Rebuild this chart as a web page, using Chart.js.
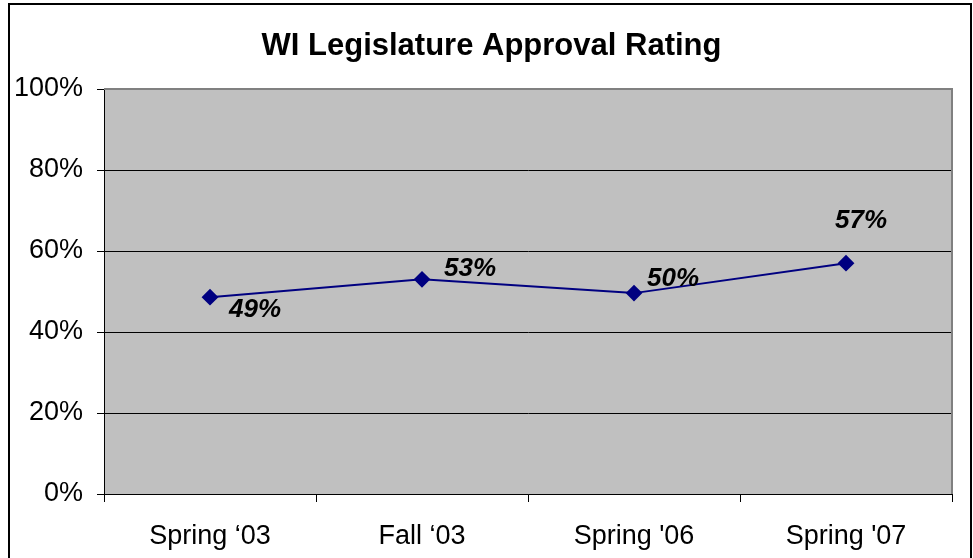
<!DOCTYPE html>
<html>
<head>
<meta charset="utf-8">
<script src="https://cdn.jsdelivr.net/npm/chart.js@4/dist/chart.umd.min.js"></script>
<style>
  html, body { margin: 0; padding: 0; background: #fff; }
  canvas { display: block; }
</style>
</head>
<body>
<canvas id="c" width="973" height="558"></canvas>
<script>
const chartTitle = 'WI Legislature Approval Rating';
const categories = ["Spring \u201803", "Fall \u201803", "Spring '06", "Spring '07"];
const approval = [48.6, 53.0, 49.6, 57.0];
const pointLabels = ["49%", "53%", "50%", "57%"];
const yTicks = [0, 20, 40, 60, 80, 100];
// label offsets (pixels from point) - styling only
const labelOffsets = [[45, 13], [48, -11], [39, -14], [15, -42]];

const FONT = "'Liberation Sans', Arial, sans-serif";

const framePlugin = {
  id: 'frame',
  beforeDraw(chart) {
    const ctx = chart.ctx, a = chart.chartArea;
    ctx.save();
    ctx.fillStyle = '#fff';
    ctx.fillRect(0, 0, chart.width, chart.height);
    ctx.fillStyle = '#C0C0C0';
    ctx.fillRect(a.left, a.top, a.right - a.left, a.bottom - a.top);
    ctx.strokeStyle = '#000';
    ctx.lineWidth = 2;
    ctx.strokeRect(9, 4, 962, 700);
    ctx.fillStyle = '#000';
    ctx.font = 'bold 31px ' + FONT;
    ctx.textAlign = 'center';
    ctx.textBaseline = 'middle';
    ctx.fillText(chartTitle, 491.5, 46);
    ctx.restore();
  },
  afterDraw(chart) {
    const ctx = chart.ctx, a = chart.chartArea;
    ctx.save();
    ctx.strokeStyle = '#808080';
    ctx.lineWidth = 2;
    ctx.beginPath();
    ctx.moveTo(a.left, a.top);
    ctx.lineTo(a.right, a.top);
    ctx.lineTo(a.right, a.bottom);
    ctx.stroke();
    ctx.restore();
  }
};

const labelPlugin = {
  id: 'ptLabels',
  afterDatasetsDraw(chart) {
    const ctx = chart.ctx;
    const meta = chart.getDatasetMeta(0);
    ctx.save();
    ctx.font = 'italic bold 26px ' + FONT;
    ctx.fillStyle = '#000';
    ctx.textAlign = 'center';
    ctx.textBaseline = 'middle';
    meta.data.forEach((pt, i) => {
      const o = labelOffsets[i];
      ctx.fillText(pointLabels[i], pt.x + o[0], pt.y + o[1]);
    });
    ctx.restore();
  }
};

new Chart(document.getElementById('c'), {
  type: 'line',
  data: {
    labels: categories,
    datasets: [{
      data: approval,
      borderColor: '#000080',
      backgroundColor: '#000080',
      borderWidth: 2,
      pointStyle: 'rectRot',
      pointRadius: 7,
      pointHoverRadius: 7,
      tension: 0,
      fill: false
    }]
  },
  options: {
    responsive: false,
    devicePixelRatio: 1,
    animation: false,
    layout: { padding: { left: 0, right: 21, top: 89, bottom: 0 } },
    plugins: {
      legend: { display: false },
      tooltip: { enabled: false },
      title: { display: false }
    },
    scales: {
      x: {
        offset: true,
        grid: { drawOnChartArea: false, drawTicks: true, tickLength: 8, color: '#000', offset: true },
        border: { color: '#000', width: 1 },
        ticks: { color: '#000', font: { family: FONT, size: 27 }, padding: 18, maxRotation: 0 },
        afterFit(scale) { scale.height = 64; }
      },
      y: {
        min: 0, max: 100,
        afterBuildTicks(scale) { scale.ticks = yTicks.map(v => ({ value: v })); },
        grid: {
          color: (c) => (c.tick && c.tick.value === 100) ? '#808080' : '#000',
          lineWidth: 1,
          tickLength: 7,
          tickColor: '#000'
        },
        border: { color: '#000', width: 1 },
        ticks: {
          color: '#000',
          font: { family: FONT, size: 27 },
          padding: 14,
          callback: (v) => v + '%'
        },
        afterFit(scale) { scale.width = 104; }
      }
    }
  },
  plugins: [framePlugin, labelPlugin]
});
</script>
</body>
</html>
